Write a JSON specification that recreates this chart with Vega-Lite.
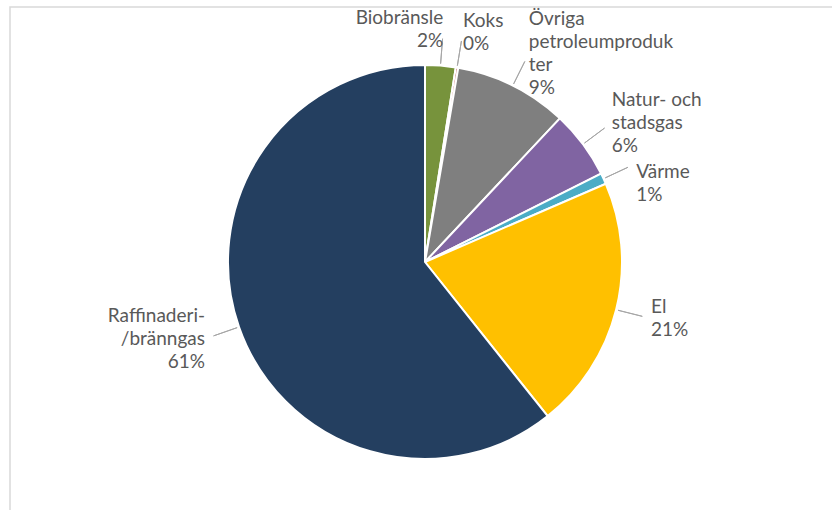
{
  "$schema": "https://vega.github.io/schema/vega-lite/v6.json",
  "width": 830,
  "height": 510,
  "autosize": {"type": "none"},
  "padding": {"left": 10, "top": 7, "right": 0, "bottom": 0},
  "background": "white",
  "view": {"stroke": "#D9D9D9", "strokeWidth": 1.5},
  "data": {
    "values": [
      {"category": "Biobränsle", "label": "Biobränsle\n2%", "value": 2.5, "order": 1},
      {"category": "Koks", "label": "Koks\n0%", "value": 0.2, "order": 2},
      {"category": "Övriga petroleumprodukter", "label": "Övriga\npetroleumproduk\nter\n9%", "value": 9.3, "order": 3},
      {"category": "Natur- och stadsgas", "label": "Natur- och\nstadsgas\n6%", "value": 5.6, "order": 4},
      {"category": "Värme", "label": "Värme\n1%", "value": 0.9, "order": 5},
      {"category": "El", "label": "El\n21%", "value": 20.8, "order": 6},
      {"category": "Raffinaderi-/bränngas", "label": "Raffinaderi-\n/bränngas\n61%", "value": 60.7, "order": 7}
    ]
  },
  "encoding": {
    "theta": {"field": "value", "type": "quantitative", "stack": true},
    "order": {"field": "order", "type": "quantitative"},
    "detail": {"field": "category", "type": "nominal"}
  },
  "layer": [
    {
      "mark": {"type": "arc", "radius": 197, "stroke": "white", "strokeWidth": 2},
      "encoding": {
        "color": {
          "field": "category",
          "type": "nominal",
          "legend": null,
          "scale": {
            "domain": ["Biobränsle", "Koks", "Övriga petroleumprodukter", "Natur- och stadsgas", "Värme", "El", "Raffinaderi-/bränngas"],
            "range": ["#77933C", "#C0504D", "#7F7F7F", "#8064A2", "#4BACC6", "#FFC000", "#243F60"]
          }
        }
      }
    },
    {
      "transform": [
        {"stack": "value", "groupby": [], "sort": [{"field": "order", "order": "ascending"}], "as": ["v0", "v1"]}
      ],
      "mark": {
        "type": "arc",
        "radius": 224,
        "radius2": 199,
        "thetaOffset": {"expr": "(datum.v1 - datum.v0) * PI / 100"},
        "theta2Offset": {"expr": "-(datum.v1 - datum.v0) * PI / 100"},
        "fill": null,
        "stroke": "#A6A6A6",
        "strokeWidth": 1
      },
      "encoding": {
        "theta": {"field": "v0", "type": "quantitative", "stack": null},
        "theta2": {"field": "v1"},
        "order": null
      }
    },
    {
      "mark": {
        "type": "text",
        "radius": 233,
        "lineBreak": "\n",
        "font": "Lato",
        "fontSize": 19,
        "lineHeight": 23,
        "fill": "#595959",
        "align": {"expr": "datum.category == 'Biobränsle' || datum.category == 'Raffinaderi-/bränngas' ? 'right' : 'left'"},
        "baseline": {"expr": "datum.category == 'Värme' ? 'top' : 'middle'"},
        "dy": {"expr": "datum.category == 'Värme' ? 0 : -(length(split(datum.label, '\\n')) - 1) * 11.5"}
      },
      "encoding": {
        "text": {"field": "label", "type": "nominal"}
      }
    }
  ]
}
